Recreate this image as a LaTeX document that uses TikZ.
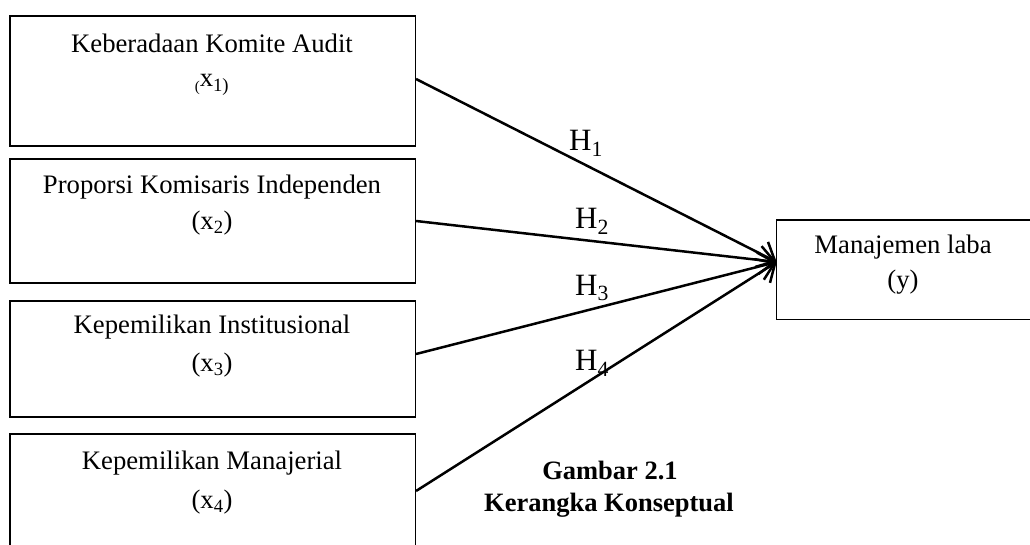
\documentclass[tikz,border=0pt]{standalone}
\usepackage{fontspec}
\setmainfont{Liberation Serif}
\usetikzlibrary{arrows.meta}
\begin{document}
\begin{tikzpicture}[x=1pt,y=-1pt,
  varbox/.style={rectangle, draw, line width=1.2pt, minimum width=405.5pt, inner sep=0pt},
  vartxt/.style={font=\fontsize{26.7}{30}\selectfont, inner sep=0pt, anchor=center},
  hyp/.style={line width=2.5pt, -{Straight Barb[length=15pt,width=28pt,line width=2.5pt]}},
  hlab/.style={font=\fontsize{31}{34}\selectfont, inner sep=0pt},
  captxt/.style={font=\fontsize{26.5}{30}\selectfont\bfseries, inner sep=0pt}]
  \clip (0,0) rectangle (1030,545);

  % independent variables
  \node[varbox, minimum height=130pt] (kom) at (212.7,81) {};
  \node[varbox, minimum height=124pt] (ind) at (212.7,221) {};
  \node[varbox, minimum height=116pt] (ins) at (212.7,359) {};
  \node[varbox, minimum height=114pt] (man) at (212.7,491) {};

  % dependent variable
  \node[rectangle, draw, line width=1.2pt, minimum width=256pt, minimum height=99.3pt, inner sep=0pt] (laba) at (904.7,269.7) {};
  \coordinate (tip) at (776.7,262);

  \node[vartxt] (kom1) at (212,43) {Keberadaan Komite Audit};
  \node[vartxt] (kom2) at (212,85) {\raisebox{-0.35ex}{\fontsize{15}{18}\selectfont(}x\textsubscript{1)}};
  \node[vartxt] (ind1) at (212,187) {Proporsi Komisaris Independen};
  \node[vartxt] (ind2) at (212,223) {(x\textsubscript{2})};
  \node[vartxt] (ins1) at (212,327) {Kepemilikan Institusional};
  \node[vartxt] (ins2) at (212,365) {(x\textsubscript{3})};
  \node[vartxt] (man1) at (212,463) {Kepemilikan Manajerial};
  \node[vartxt] (man2) at (212,502) {(x\textsubscript{4})};
  \node[vartxt] (laba1) at (903,247) {Manajemen laba};
  \node[vartxt] (laba2) at (903,282) {(y)};

    \draw[hyp] (kom.east |- 0,79) -- (tip);
    \draw[hyp] (ind.east) -- (tip);
    \draw[hyp] (ins.east |- 0,354) -- (tip);
    \draw[hyp] (man.east) -- (tip);

  \node[hlab] (h1) at (586,143) {H\textsubscript{1}};
  \node[hlab] (h2) at (592,221) {H\textsubscript{2}};
  \node[hlab] (h3) at (592,288) {H\textsubscript{3}};
  \node[hlab] (h4) at (592,363) {H\textsubscript{4}};

  \node[captxt] (cap1) at (610,470) {Gambar 2.1};
  \node[captxt] (cap2) at (609,505) {Kerangka Konseptual};
\end{tikzpicture}
\end{document}
